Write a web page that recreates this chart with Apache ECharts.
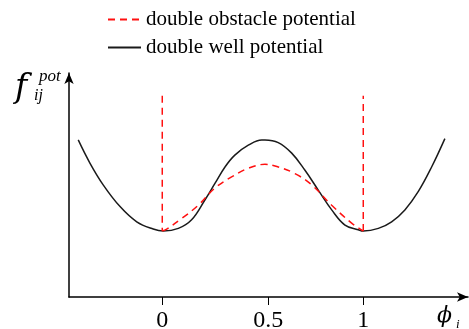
<!DOCTYPE html>
<html>
<head>
<meta charset="utf-8">
<script src="https://cdn.jsdelivr.net/npm/echarts@6/dist/echarts.min.js"></script>
<style>html,body{margin:0;padding:0;background:#fff}#c{width:469px;height:329px}</style>
</head>
<body>
<div id="c"></div>
<script>
// ---- data ----
var seriesNames = ['double obstacle potential', 'double well potential'];
// double well potential (black solid)
var wellX = [-0.418, -0.360, -0.294, -0.210, -0.127, -0.045, 0.005, 0.080, 0.146, 0.212, 0.262, 0.312, 0.361, 0.428, 0.495, 0.511, 0.577, 0.644, 0.710, 0.776, 0.843, 0.909, 0.975, 1.000, 1.075, 1.141, 1.207, 1.274, 1.340, 1.406];
var wellY = [2.38, 2.03, 1.70, 1.37, 1.14, 1.03, 1.00, 1.04, 1.17, 1.47, 1.72, 1.97, 2.15, 2.30, 2.38, 2.38, 2.34, 2.18, 1.92, 1.62, 1.32, 1.09, 1.02, 1.00, 1.04, 1.14, 1.32, 1.60, 1.97, 2.40];
// double obstacle potential (red dashed) inside [0,1]
var obstX = [0.000, 0.022, 0.097, 0.179, 0.262, 0.345, 0.428, 0.511, 0.577, 0.660, 0.743, 0.843, 0.942, 1.000];
var obstY = [1.00, 1.03, 1.19, 1.39, 1.65, 1.82, 1.95, 2.01, 1.97, 1.87, 1.70, 1.39, 1.12, 1.00];
// obstacle walls at phi = 0 and phi = 1
var wallX = [0, 1];
var wallBottom = 1.00;
var wallTop = 3.05;
// x-axis ticks
var tickValues = [0, 0.527, 1];
var tickLabels = ['0', '0.5', '1'];

// ---- build ----
function zip(xs, ys) { return xs.map(function (x, i) { return [x, ys[i]]; }); }
var red = '#ff1010';
var dash = [7, 5];
var serif = '"Liberation Serif", "DejaVu Serif", serif';

var series = [
  { name: seriesNames[0], type: 'line', data: zip(obstX, obstY), smooth: 0.4, symbol: 'none',
    lineStyle: { color: red, width: 1.5, type: dash }, itemStyle: { color: red }, z: 3 },
  { name: seriesNames[0], type: 'line', data: [[wallX[0], wallTop], [wallX[0], wallBottom]], symbol: 'none',
    lineStyle: { color: red, width: 1.5, type: dash }, itemStyle: { color: red }, z: 3 },
  { name: seriesNames[0], type: 'line', data: [[wallX[1], wallBottom], [wallX[1], wallTop]], symbol: 'none',
    lineStyle: { color: red, width: 1.5, type: dash }, itemStyle: { color: red }, z: 3 },
  { name: seriesNames[1], type: 'line', data: zip(wellX, wellY), smooth: 0.4, symbol: 'none',
    lineStyle: { color: '#1a1a1a', width: 1.5 }, itemStyle: { color: '#1a1a1a' }, z: 2 }
];

var chart = echarts.init(document.getElementById('c'), null, { renderer: 'canvas' });
chart.setOption({
  animation: false,
  backgroundColor: '#fff',
  grid: { left: 69, right: 1, top: 73, bottom: 32, containLabel: false, outerBoundsMode: 'none' },
  legend: {
    orient: 'vertical', left: 107, top: 9, padding: 0,
    itemWidth: 33, itemHeight: 14, itemGap: 7,
    data: seriesNames,
    itemStyle: { opacity: 0 },
    textStyle: { fontFamily: serif, fontSize: 21, color: '#000' }
  },
  xAxis: {
    type: 'value', min: -0.464, max: 1.521,
    axisLine: { show: true, onZero: true, symbol: ['none', 'arrow'], symbolSize: [7, 11],
      lineStyle: { color: '#000', width: 1.5 } },
    axisTick: { show: true, length: 8, customValues: tickValues, lineStyle: { color: '#000', width: 1 } },
    axisLabel: { show: true, customValues: tickValues, margin: 12, fontFamily: serif, fontSize: 24, color: '#000',
      formatter: function (v) { var i = tickValues.indexOf(v); return i >= 0 ? tickLabels[i] : ''; } },
    splitLine: { show: false }
  },
  yAxis: {
    type: 'value', min: 0, max: 3.394,
    axisLine: { show: true, onZero: false, symbol: ['none', 'arrow'], symbolSize: [7, 11],
      lineStyle: { color: '#000', width: 1.5 } },
    axisTick: { show: false }, axisLabel: { show: false }, splitLine: { show: false }
  },
  graphic: [
    { type: 'text', x: 15, y: 72, style: { text: 'f', font: 'italic 33px "DejaVu Serif", serif', fill: '#000' } },
    { type: 'text', x: 39, y: 68, style: { text: 'pot', font: 'italic 17px ' + serif, fill: '#000' } },
    { type: 'text', x: 34, y: 88, style: { text: 'ij', font: 'italic 16px ' + serif, fill: '#000' } },
    { type: 'text', x: 437, y: 305, style: { text: '\u03D5', font: 'italic 22px "DejaVu Serif", serif', fill: '#000' } },
    { type: 'text', x: 456, y: 318, style: { text: 'i', font: 'italic 13px ' + serif, fill: '#000' } }
  ],
  series: series
});
</script>
</body>
</html>
